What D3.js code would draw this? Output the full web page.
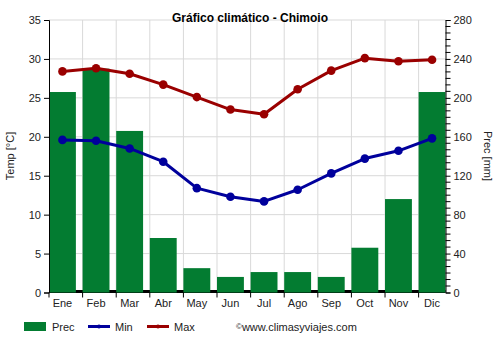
<!DOCTYPE html>
<html><head><meta charset="utf-8">
<script src="https://cdn.jsdelivr.net/npm/d3@7"></script>
<style>body{margin:0;background:#fff}svg{display:block}text{font-family:"Liberation Sans",Arial,sans-serif}</style>
</head><body><svg id="c" width="500" height="350"></svg>
<script>
const months = ["Ene","Feb","Mar","Abr","May","Jun","Jul","Ago","Sep","Oct","Nov","Dic"];
const prec = [206,230,166,56,25,16,21,21,16,46,96,206];
const tmin = [19.6,19.5,18.5,16.8,13.4,12.3,11.7,13.2,15.3,17.2,18.2,19.8];
const tmax = [28.4,28.8,28.1,26.7,25.1,23.5,22.9,26.1,28.5,30.1,29.7,29.9];
const tempTicks = [0,5,10,15,20,25,30,35];
const precTicks = [0,40,80,120,160,200,240,280];

const svg = d3.select("#c");
const L = 49, R = 445.5, T = 20, B = 292.5;
const step = (R - L) / (11 + 0.8);
const bw = step * 0.8;
const x = d3.scaleBand().domain(months).range([L, L + step * 12]).paddingInner(0).paddingOuter(0);
const yT = d3.scaleLinear().domain([0,35]).range([B, T]);
const yP = d3.scaleLinear().domain([0,280]).range([B, T]);
const cx = m => x(m) + bw / 2;

// grid
const g = svg.append("g");
g.selectAll(".hg").data(tempTicks.slice(1)).enter().append("line")
  .attr("x1", L).attr("x2", R).attr("y1", d => yT(d)).attr("y2", d => yT(d))
  .attr("stroke", "#d9d9d9").attr("stroke-width", 1);
g.selectAll(".vg").data(months.slice(1)).enter().append("line")
  .attr("x1", d => x(d)).attr("x2", d => x(d)).attr("y1", T).attr("y2", B)
  .attr("stroke", "#d9d9d9").attr("stroke-width", 1);

// baseline
svg.append("line").attr("x1", L).attr("x2", R).attr("y1", B - 1).attr("y2", B - 1)
  .attr("stroke", "#000").attr("stroke-width", 3);

// bars
svg.selectAll(".bar").data(months).enter().append("rect")
  .attr("x", d => x(d)).attr("width", bw)
  .attr("y", (d,i) => yP(prec[i])).attr("height", (d,i) => B - yP(prec[i]))
  .attr("fill", "#037c31");

// lines
function series(vals, color) {
  const line = d3.line().x((d,i) => cx(months[i])).y(d => yT(d));
  svg.append("path").datum(vals).attr("d", line).attr("fill", "none")
    .attr("stroke", color).attr("stroke-width", 3).attr("stroke-linejoin", "round");
  svg.selectAll(null).data(vals).enter().append("circle")
    .attr("cx", (d,i) => cx(months[i])).attr("cy", d => yT(d)).attr("r", 4.3).attr("fill", color);
}
series(tmin, "#00009c");
series(tmax, "#9a0000");

// left axis
const axL = d3.axisLeft(yT).tickValues(tempTicks).tickSize(5).tickPadding(3);
const gl = svg.append("g").attr("transform", `translate(${L},0)`).call(axL);
// right axis
const axR = d3.axisRight(yP).tickValues(precTicks).tickSize(5).tickPadding(3);
const gr = svg.append("g").attr("transform", `translate(${R},0)`).call(axR);
const minor = d3.range(0, 280.01, 40/6).filter(v => Math.abs(v/40 - Math.round(v/40)) > 1e-6);
gr.selectAll(".mn").data(minor).enter().append("line")
  .attr("x1", 0).attr("x2", 5).attr("y1", d => yP(d)).attr("y2", d => yP(d)).attr("stroke", "#000");
// bottom axis
const axB = d3.axisBottom(x).tickSize(0).tickPadding(0);
const gb = svg.append("g").attr("transform", `translate(0,${B})`).call(axB);
gb.selectAll(".tick text").attr("x", bw/2 - step/2).attr("dy", "1.3em");
gb.selectAll(".bt").data(months).enter().append("line")
  .attr("x1", d => x(d)).attr("x2", d => x(d)).attr("y1", 0).attr("y2", 5).attr("stroke", "#000");
[gl, gr, gb].forEach(a => {
  a.selectAll("text").attr("font-size", 11).attr("fill", "#222").attr("font-family", "Liberation Sans, Arial, sans-serif");
  a.select(".domain").attr("stroke", "#000");
  a.selectAll(".tick line").attr("stroke", "#000");
});
gb.select(".domain").remove();

// titles
svg.append("text").attr("x", 250).attr("y", 22).attr("text-anchor", "middle")
  .attr("font-size", 12).attr("font-weight", "bold").text("Gráfico climático - Chimoio");
svg.append("text").attr("transform", "translate(14,156) rotate(-90)").attr("text-anchor", "middle")
  .attr("font-size", 11).attr("fill", "#222").text("Temp [°C]");
svg.append("text").attr("transform", "translate(484,156) rotate(90)").attr("text-anchor", "middle")
  .attr("font-size", 11).attr("fill", "#222").text("Prec [mm]");

// legend
const lg = svg.append("g").attr("font-size", 11);
lg.append("rect").attr("x", 24).attr("y", 322).attr("width", 22).attr("height", 9).attr("fill", "#037c31");
lg.append("text").attr("x", 52).attr("y", 330.5).attr("fill", "#222").text("Prec");
lg.append("line").attr("x1", 88).attr("x2", 110).attr("y1", 326.5).attr("y2", 326.5).attr("stroke", "#00009c").attr("stroke-width", 3);
lg.append("circle").attr("cx", 99).attr("cy", 326.5).attr("r", 2).attr("fill", "#00009c");
lg.append("text").attr("x", 115).attr("y", 330.5).attr("fill", "#222").text("Min");
lg.append("line").attr("x1", 147).attr("x2", 169).attr("y1", 326.5).attr("y2", 326.5).attr("stroke", "#9a0000").attr("stroke-width", 3);
lg.append("circle").attr("cx", 158).attr("cy", 326.5).attr("r", 2).attr("fill", "#9a0000");
lg.append("text").attr("x", 174).attr("y", 330.5).attr("fill", "#222").text("Max");
const cp = lg.append("text").attr("x", 236).attr("y", 330.5).attr("fill", "#222");
cp.append("tspan").attr("font-size", 8).attr("dy", -2).text("\u00a9");
cp.append("tspan").attr("dy", 2).text("www.climasyviajes.com");
</script></body></html>
